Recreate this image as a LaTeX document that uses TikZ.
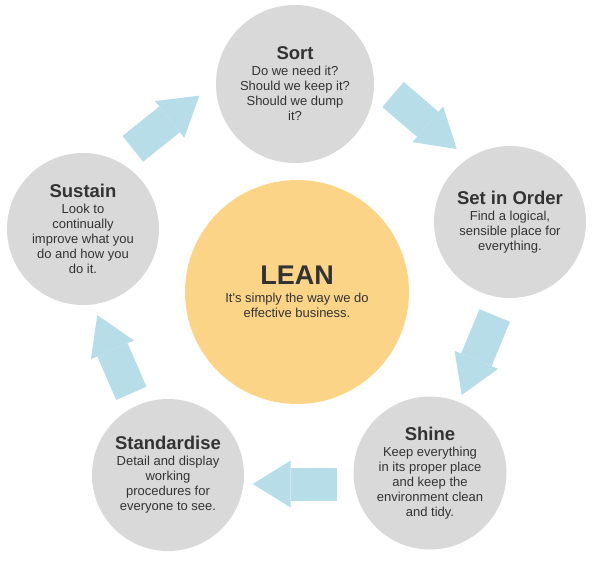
\documentclass[tikz,border=0pt]{standalone}
\usepackage{fontspec}
\setmainfont{Liberation Sans}
\usetikzlibrary{arrows.meta}
\definecolor{stagegray}{HTML}{D9D9D9}
\definecolor{leanyellow}{HTML}{FBD488}
\definecolor{flowblue}{HTML}{B7DDE8}
\definecolor{inkgray}{HTML}{333333}
\newcommand{\stagetitle}[1]{{\fontsize{18.5}{20}\selectfont\bfseries #1}}
\tikzset{
  stage/.style={circle,fill=stagegray,inner sep=0pt,align=center,text=inkgray,
    font=\fontsize{13}{15}\selectfont},
  flow/.style={draw,color=flowblue,line width=33pt,
    -{Triangle[length=38pt,width=47pt,line width=0pt]}}
}
\begin{document}
\begin{tikzpicture}[x=1pt,y=-1pt]
\useasboundingbox (0,0) rectangle (593,561);
\node[stage,minimum size=158pt] (Sort) at (295,84) {\stagetitle{Sort}\\[1pt]Do we need it?\\Should we keep it?\\Should we dump\\it?};
\node[stage,minimum size=152pt] (Order) at (510,222) {\stagetitle{Set in Order}\\[1pt]Find a logical,\\sensible place for\\everything.};
\node[stage,minimum size=153pt] (Shine) at (430,473) {\stagetitle{Shine}\\[1pt]Keep everything\\in its proper place\\and keep the\\environment clean\\and tidy.};
\node[stage,minimum size=152pt] (Std) at (168,475) {\stagetitle{Standardise}\\[1pt]Detail and display\\working\\procedures for\\everyone to see.};
\node[stage,minimum size=152pt] (Sustain) at (83,229) {\stagetitle{Sustain}\\[1pt]Look to\\continually\\improve what you\\do and how you\\do it.};
\node[stage,fill=leanyellow,minimum size=224pt] (Lean) at (297,292) {{\fontsize{27}{30}\selectfont\bfseries LEAN}\\[3pt]It\textquotesingle s simply the way we do\\effective business.};
% arrow ends
\coordinate (t1) at (132.8,148.8);
\coordinate (h1) at (199.3,95.7);
\coordinate (t2) at (393,94.5);
\coordinate (h2) at (456.7,149);
\coordinate (t3) at (494.7,315.5);
\coordinate (h3) at (461.7,395);
\coordinate (t4) at (336.7,484);
\coordinate (h4) at (252.7,484);
\coordinate (t5) at (131.3,393.3);
\coordinate (h5) at (97.3,315);
\path
  (t1) edge[flow] (h1)
  (t2) edge[flow] (h2)
  (t3) edge[flow] (h3)
  (t4) edge[flow] (h4)
  (t5) edge[flow] (h5)
;
\end{tikzpicture}
\end{document}
